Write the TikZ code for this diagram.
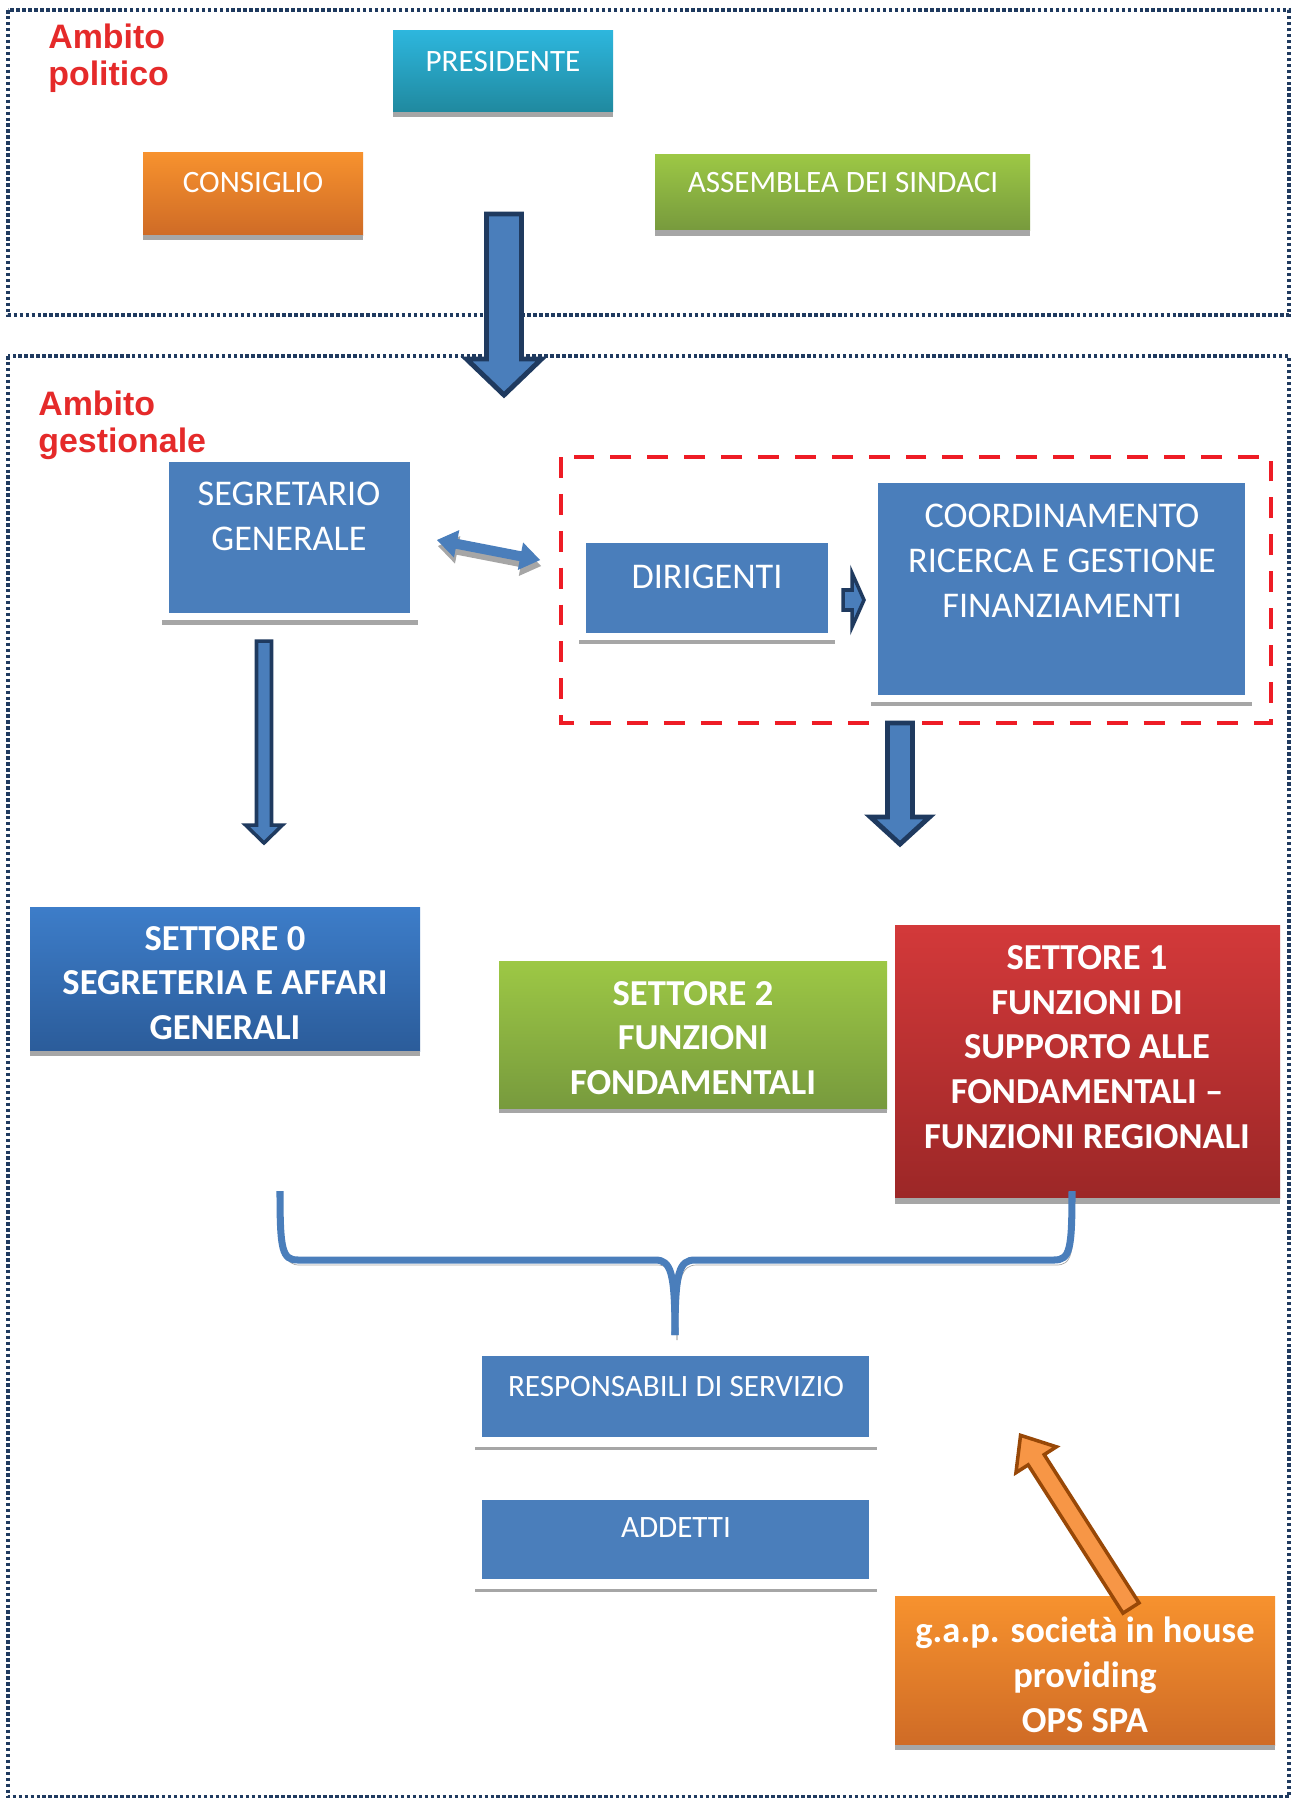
\documentclass[tikz,border=0pt]{standalone}
\usepackage{fontspec}
\setmainfont{Carlito}
\newfontfamily\arialfont{Liberation Sans}
\usetikzlibrary{calc}
\definecolor{boxblue}{HTML}{4A7EBB}
\definecolor{navy}{HTML}{1F3A5F}
\definecolor{barg}{HTML}{A6A6A6}
\definecolor{ambred}{HTML}{E52A2A}
\definecolor{dashred}{HTML}{EE1C25}
\definecolor{tealT}{HTML}{2DB6DD}
\definecolor{tealB}{HTML}{20899F}
\definecolor{orT}{HTML}{F7922E}
\definecolor{orB}{HTML}{CF6B26}
\definecolor{grT}{HTML}{9DC845}
\definecolor{grB}{HTML}{779A3D}
\definecolor{rdT}{HTML}{D3393A}
\definecolor{rdB}{HTML}{9C2727}
\definecolor{sbT}{HTML}{3D7DC9}
\definecolor{sbB}{HTML}{2B5C9A}
\definecolor{oarrF}{HTML}{F79646}
\definecolor{oarrD}{HTML}{984807}
\tikzset{
  box/.style={inner sep=0pt, draw=none},
  sz/.style 2 args={minimum width=#1*0.02cm, minimum height=#2*0.02cm},
  flat/.style={box, fill=boxblue},
  txt/.style={inner sep=0pt, text=white, align=center, font=\fontsize{20.6}{25.5}\selectfont},
  txts/.style={txt, font=\fontsize{17.7}{21}\selectfont},
  txtb/.style={txt, font=\bfseries\fontsize{20.8}{25.5}\selectfont},
  amb/.style={inner sep=0pt, anchor=north west, align=left, text=ambred, font=\arialfont\bfseries\fontsize{19.3}{21}\selectfont},
  bar/.style={fill=barg},
  frame/.style={draw=navy, line width=2.3pt, dash pattern=on 2pt off 1.4pt},
  reddash/.style={draw=dashred, line width=2.8pt, dash pattern=on 11.9pt off 9.1pt},
  blk/.style={draw=navy, fill=boxblue, line width=2.8pt, line join=miter},
  blks/.style={blk, line width=2pt},
  oarr/.style={draw=oarrD, fill=oarrF, line width=2pt, line join=miter},
  brc/.style={draw=boxblue, line width=4pt, preaction={draw=barg, transform canvas={shift={(2,5)}}}}
}

\begin{document}
\begin{tikzpicture}[x=0.02cm, y=-0.02cm]
\useasboundingbox (0,0) rectangle (1291,1798);
\fill[white] (0,0) rectangle (1291,1798);
\draw[frame] (8,10) rectangle (1289,315);
\draw[frame] (8,356) rectangle (1289,1797);
\node[amb] (ambpol) at (48,24) {Ambito\\politico};
\node[amb] (ambges) at (38,391) {Ambito\\gestionale};

\node[box, sz={220}{81}, top color=tealT, bottom color=tealB] (pres) at (503,71.5) {};
\node[box, sz={220}{83}, top color=orT, bottom color=orB] (cons) at (253,193.5) {};
\node[box, sz={375}{76}, top color=grT, bottom color=grB] (ass) at (842.5,192) {};
\node[flat, sz={241}{151}] (seg) at (289.5,537.5) {};
\node[flat, sz={242}{90}] (dir) at (707,588) {};
\node[flat, sz={367}{212}] (coord) at (1061.5,589) {};
\node[box, sz={390}{144}, top color=sbT, bottom color=sbB] (set0) at (225,979) {};
\node[box, sz={388}{148}, top color=grT, bottom color=grB] (set2) at (693,1035) {};
\node[box, sz={385}{273}, top color=rdT, bottom color=rdB] (set1) at (1087.5,1061.5) {};
\node[flat, sz={387}{81}] (resp) at (675.5,1396.5) {};
\node[flat, sz={387}{79}] (add) at (675.5,1539.5) {};
\node[box, sz={380}{149}, top color=orT, bottom color=orB] (gap) at (1085,1670.5) {};

\fill[bar] (pres.south west) rectangle ($(pres.south east)+(0,5)$);
\fill[bar] (cons.south west) rectangle ($(cons.south east)+(0,5)$);
\fill[bar] (ass.south west) rectangle ($(ass.south east)+(0,6)$);
\fill[bar] ($(seg.south west)+(-7,7)$) rectangle ($(seg.south east)+(8,12)$);
\fill[bar] ($(dir.south west)+(-7,7)$) rectangle ($(dir.south east)+(7,11)$);
\fill[bar] ($(coord.south west)+(-7,7)$) rectangle ($(coord.south east)+(7,11)$);
\fill[bar] (set0.south west) rectangle ($(set0.south east)+(0,5)$);
\fill[bar] (set2.south west) rectangle ($(set2.south east)+(0,4)$);
\fill[bar] (set1.south west) rectangle ($(set1.south east)+(0,6)$);
\fill[bar] ($(resp.south west)+(-7,10)$) rectangle ($(resp.south east)+(8,13)$);
\fill[bar] ($(add.south west)+(-7,10)$) rectangle ($(add.south east)+(8,13)$);
\fill[bar] (gap.south west) rectangle ($(gap.south east)+(0,5)$);

\node[txts] (pres-t) at (503,62) {PRESIDENTE};
\node[txts] (cons-t) at (253,183) {CONSIGLIO};
\node[txts] (ass-t) at (843,183) {ASSEMBLEA DEI SINDACI};
\node[txt] (seg-t) at (289,516) {SEGRETARIO\\GENERALE};
\node[txt] (dir-t) at (707,577) {DIRIGENTI};
\node[txt] (coord-t) at (1062,561) {COORDINAMENTO\\RICERCA E GESTIONE\\FINANZIAMENTI};
\node[txtb] (set0-t) at (225,983) {SETTORE 0\\SEGRETERIA E AFFARI\\GENERALI};
\node[txtb] (set2-t) at (693,1038) {SETTORE 2\\FUNZIONI\\FONDAMENTALI};
\node[txtb] (set1-t) at (1087,1047) {SETTORE 1\\FUNZIONI DI\\SUPPORTO ALLE\\FONDAMENTALI –\\FUNZIONI REGIONALI};
\node[txts] (resp-t) at (676,1386) {RESPONSABILI DI SERVIZIO};
\node[txts] (add-t) at (676,1528) {ADDETTI};
\node[txtb] (gap-t) at (1085,1675) {g.a.p. società in house\\providing\\OPS SPA};

\draw[reddash] (561,457) rectangle (1271,723);

\coordinate (dn0) at (504,214);
\coordinate (dn1) at (264,641);
\coordinate (dn2) at (900,723);
\coordinate (rt) at (843,600);
\coordinate (segA) at (437,540);
\coordinate (segS) at (438,546);
\coordinate (gapA) at (1131,1608);
\draw[blk] (dn0) ++(-17.5,0) -- ++(35,0) -- ++(0,145) -- ++(20,0) -- ++(-37.5,36) -- ++(-37.5,-36) -- ++(20,0) -- cycle;
\draw[blks] (dn1) ++(-7.5,0) -- ++(15,0) -- ++(0,184) -- ++(11,0) -- ++(-18.5,18) -- ++(-18.5,-18) -- ++(11,0) -- cycle;
\draw[blk] (dn2) ++(-12.5,0) -- ++(25,0) -- ++(0,94) -- ++(17,0) -- ++(-29.5,27) -- ++(-29.5,-27) -- ++(17,0) -- cycle;
\draw[blks] (rt) ++(0,-10) -- ++(9,0) -- ++(0,-17) -- ++(12,27) -- ++(-12,27) -- ++(0,-17) -- ++(-9,0) -- cycle;
\fill[barg, shift={(segS)}, rotate=-11] (0,0) -- (20,-14) -- (20,-5) -- (85,-5) -- (85,-14) -- (105,0) -- (85,14) -- (85,5) -- (20,5) -- (20,14) -- cycle;
\fill[boxblue, shift={(segA)}, rotate=-11] (0,0) -- (20,-14) -- (20,-5) -- (85,-5) -- (85,-14) -- (105,0) -- (85,14) -- (85,5) -- (20,5) -- (20,14) -- cycle;
\draw[oarr, shift={(gapA)}, rotate=122.6] (0,-9.5) -- (176,-9.5) -- (176,-24) -- (205,0) -- (176,24) -- (176,9.5) -- (0,9.5) -- cycle;

\coordinate (brL) at (280,1191);
\coordinate (brR) at (1072,1191);
\coordinate (brT) at (675,1335);
\draw[brc] (brL) .. controls (280,1250) and (282,1260) .. (298,1260) -- (655,1260) .. controls (671,1260) and (675,1272) .. (brT);
\draw[brc] (brR) .. controls (1072,1250) and (1070,1260) .. (1054,1260) -- (695,1260) .. controls (679,1260) and (675,1272) .. (brT);
\end{tikzpicture}
\end{document}
